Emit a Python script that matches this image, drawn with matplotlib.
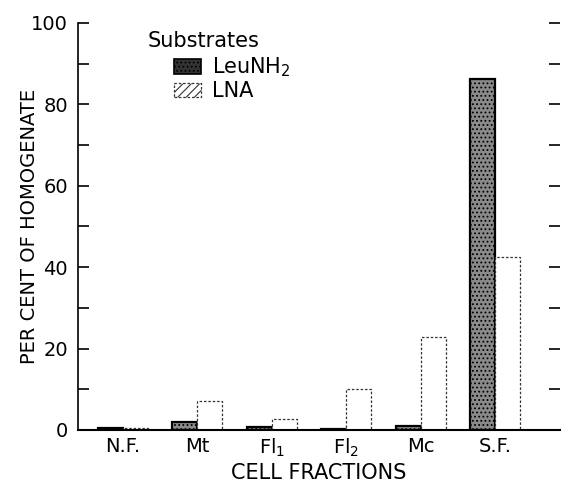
import numpy as np
import matplotlib
matplotlib.use('Agg')
import matplotlib.pyplot as plt
from matplotlib.ticker import MultipleLocator
from matplotlib.patches import Patch

fractions = ["N.F.", "Mt", "Fl$_{\\mathregular{1}}$", "Fl$_{\\mathregular{2}}$", "Mc", "S.F."]
leunh2 = [0.4, 2.0, 0.8, 0.3, 1.0, 86.2]
lna = [0.4, 7.0, 2.7, 10.0, 22.8, 42.5]

plt.rcParams['font.family'] = 'DejaVu Sans'
plt.rcParams['hatch.linewidth'] = 0.8

fig = plt.figure(figsize=(5.68, 4.88), dpi=100)
ax = fig.add_axes([0.137, 0.119, 0.849, 0.834])

x = np.arange(len(fractions))
w = 0.335
ax.bar(x - w / 2, leunh2, w, facecolor='#8a8a8a', edgecolor='black',
       hatch='....', linewidth=1.6, zorder=2)
ax.bar(x + w / 2, lna, w, facecolor='white', edgecolor='#333333',
       linestyle=(0, (2, 1.5)), linewidth=0.9, zorder=2)

ax.set_xlim(-0.6, 5.87)
ax.set_ylim(0, 100)
ax.set_xticks(x)
ax.set_xticklabels(fractions, fontsize=14)
ax.tick_params(axis='x', length=0, pad=5)

ax.yaxis.set_major_locator(MultipleLocator(20))
ax.yaxis.set_minor_locator(MultipleLocator(10))
ax.tick_params(axis='y', which='both', direction='in', length=8, width=1.2,
               labelsize=14, right=True, pad=7)

for s in ['top', 'right']:
    ax.spines[s].set_visible(False)
ax.spines['left'].set_linewidth(1.2)
ax.spines['bottom'].set_linewidth(1.5)

ax.set_xlabel("CELL FRACTIONS", fontsize=15, labelpad=3)
ax.set_ylabel("PER CENT OF HOMOGENATE", fontsize=14)
ax.yaxis.set_label_coords(-0.08, 0.5)

# legend: title on its own, entries indented under it
ax.text(0.145, 0.955, "Substrates", transform=ax.transAxes, fontsize=15,
        ha='left', va='center')
handles = [Patch(facecolor='#333333', edgecolor='black', hatch='....', linewidth=1.2),
           Patch(facecolor='white', edgecolor='#333333', hatch='////',
                 linestyle=(0, (2, 1.5)), linewidth=0.9)]
labels = ['LeuNH$_{\\mathregular{2}}$', 'LNA']
ax.legend(handles, labels, loc='upper left', bbox_to_anchor=(0.17, 0.955),
          frameon=False, fontsize=15, handlelength=1.3, handleheight=0.7,
          handletextpad=0.5, labelspacing=0.08, borderpad=0.2)

fig.savefig('out.png', dpi=100)
